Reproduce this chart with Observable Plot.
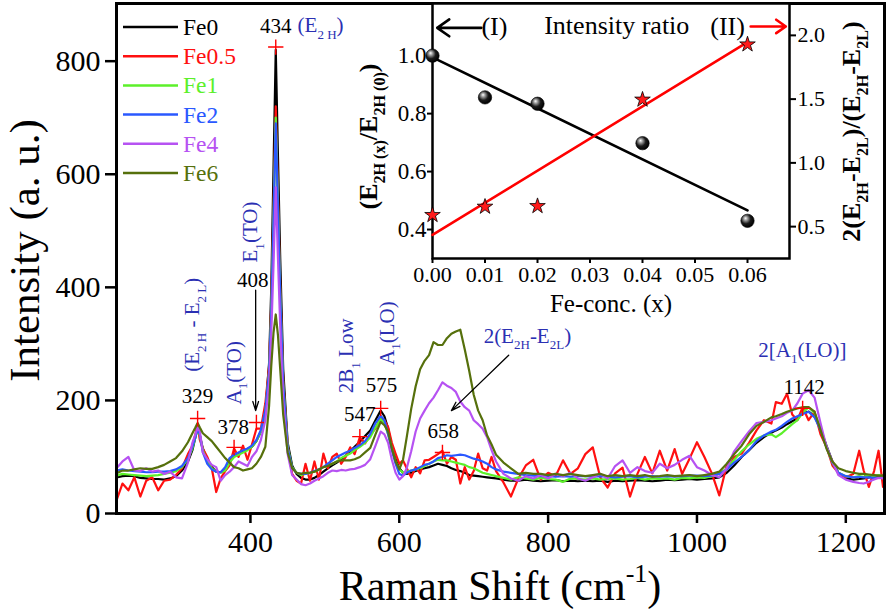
<!DOCTYPE html>
<html><head><meta charset="utf-8">
<script src="https://cdn.jsdelivr.net/npm/d3@7"></script>
<script src="https://cdn.jsdelivr.net/npm/@observablehq/plot@0.6"></script>
<style>
body{margin:0;background:#fff;}
#wrap{position:relative;width:886px;height:614px;}
#wrap svg{position:absolute;left:0;top:0;}
</style></head><body><div id="wrap"></div>
<script>
const FONT = "'Liberation Serif','Times New Roman',Times,serif";

// ---------- main spectra (Raman shift, cm-1) ----------
const shift = [
 220,228,236,244,252,260,268,276,284,292,300,308,316,
 322,326,329,332,336,342,348,354,360,366,372,378,384,390,396,402,408,414,
 420,425,428,431,434,437,440,444,450,456,462,
 468,474,480,486,492,498,504,510,516,522,528,534,540,547,554,561,568,575,580,585,590,595,600,605,610,
 616,622,628,634,640,646,652,658,664,670,676,682,688,694,700,706,712,718,724,730,
 740,750,760,770,780,790,800,810,820,830,840,850,860,870,880,890,900,910,920,930,940,950,960,970,980,990,1000,1010,1020,1030,1040,
 1050,1060,1070,1080,1090,1100,1106,1114,1121,1128,1135,1142,1150,1158,1166,1174,1182,1190,1200,1210,1218,1224,1231,1238,1244,1250];

const fe0 = [
 64,66,67,66,63,62,61,61,60,62,66,76,92,
 112,135,152,138,115,95,82,74,73,76,95,104,107,110,114,118,128,145,
 180,265,400,610,820,630,450,255,125,85,70,
 63,60,60,63,68,74,80,85,90,96,102,110,118,127,137,147,165,182,172,150,118,96,80,72,70,
 72,75,78,80,82,85,88,86,84,80,77,75,72,68,67,66,65,64,63,62,
 60,58,58,60,58,57,58,59,57,58,57,58,57,58,56,58,57,58,59,58,57,58,60,59,60,61,60,61,62,64,72,
 85,100,112,125,135,143,147,152,158,163,168,178,180,172,150,120,92,72,62,60,61,62,64,65,66,67];

const fe05 = [
 23,53,41,64,30,58,64,41,58,60,68,80,105,
 120,140,158,130,115,100,80,38,62,75,85,115,100,120,95,122,150,150,
 195,260,370,540,720,560,400,235,120,70,58,
 53,88,58,92,60,106,80,100,106,88,100,117,105,135,124,140,150,170,165,153,125,106,88,94,80,
 64,82,71,94,95,100,105,111,88,100,95,53,82,60,75,106,80,76,100,75,
 55,30,62,85,95,60,72,66,94,70,80,105,117,64,46,71,81,30,70,100,71,111,76,114,70,97,126,100,71,32,85,
 100,106,125,147,165,159,197,194,212,175,165,188,165,180,140,118,85,72,64,70,111,76,47,75,111,47];

const fe1 = [
 67,70,69,68,67,66,67,68,70,72,75,82,96,
 115,135,150,138,112,92,80,74,72,76,90,100,104,108,112,118,128,145,
 180,250,360,525,700,545,390,230,118,82,72,
 68,70,72,74,78,82,85,88,92,98,102,106,112,118,125,135,152,167,160,140,115,92,78,72,74,
 76,78,80,84,88,92,95,94,94,92,90,88,86,82,80,76,72,70,68,66,
 63,60,64,62,60,63,61,60,56,62,61,60,62,60,61,62,60,61,63,60,62,61,62,60,63,62,64,63,66,70,80,
 95,110,122,132,138,140,135,142,150,158,165,178,188,178,150,118,90,72,66,64,66,65,68,66,68,66];

const fe2 = [
 76,78,76,75,74,73,73,74,74,75,78,84,98,
 118,135,150,140,108,88,78,74,73,82,98,104,108,112,115,120,130,148,
 182,250,355,520,690,540,385,228,116,80,72,
 70,70,72,75,78,82,88,94,100,104,108,111,116,121,128,141,160,173,165,140,112,88,70,67,72,
 76,78,82,86,88,92,98,100,103,102,103,104,103,100,97,95,92,88,82,78,
 74,72,70,68,67,66,66,65,66,65,66,66,65,66,65,64,65,66,64,65,66,65,66,65,66,67,67,66,67,70,78,
 90,100,112,128,138,145,148,155,162,168,172,176,180,170,148,118,90,72,66,64,65,64,64,63,64,63];

const fe4 = [
 80,92,100,76,75,80,74,76,70,74,64,62,90,
 125,140,152,145,108,96,86,82,58,68,74,82,92,88,84,100,110,130,
 165,230,320,440,577,450,330,200,105,68,60,
 52,50,53,58,62,66,72,76,75,77,76,78,79,82,86,96,120,145,140,125,95,72,60,66,80,
 110,145,168,182,195,205,218,232,226,222,215,198,188,182,165,158,150,135,112,92,
 70,62,58,66,62,68,62,70,66,72,62,58,64,70,62,84,94,72,82,75,72,88,80,86,95,102,82,76,68,64,80,
 110,128,145,160,162,165,168,172,178,182,195,212,218,205,160,118,92,68,60,56,54,53,56,60,63,62];

const fe6 = [
 71,76,76,78,80,79,79,82,86,92,98,110,126,
 142,152,160,152,142,135,128,118,108,98,90,82,80,76,78,80,88,100,
 118,190,262,320,352,315,255,175,108,80,72,
 70,72,72,74,78,82,84,88,92,94,94,94,96,100,108,116,140,162,156,145,115,92,78,95,135,
 185,225,255,270,280,303,298,298,310,318,322,325,290,252,210,182,165,138,122,104,
 90,80,70,72,70,70,68,70,68,70,68,66,68,70,66,68,66,68,66,68,65,66,68,66,67,68,66,68,70,74,88,
 105,120,140,155,162,170,172,176,180,183,186,188,188,180,148,115,92,80,75,72,70,70,69,68,67,67];

const seriesNames = ["Fe0","Fe0.5","Fe1","Fe2","Fe4","Fe6"];
const seriesValues = [fe0, fe05, fe1, fe2, fe4, fe6];
const seriesColors = ["#000000","#ff1010","#5cf02a","#2a58ff","#b652f2","#56700c"];

const xTicks = [400,600,800,1000,1200];
const yTicks = [0,200,400,600,800];

// marked peaks
const peakShift = [329,378,408,434,547,575,658,1142];
const peakIntensity = [168,117,161,825,136,186,108,186];
const peakLabels = ["329","378","408","434","547","575","658","1142"];
const peakLabelX = [329,377,403,434,547,576,659,1144];
const peakLabelY = [208,153,412,861,176,226,146,224];

// inset: intensity ratios vs Fe concentration
const conc = [0,0.01,0.02,0.04,0.06];
const ratioI = [1.0,0.856,0.834,0.698,0.430];
const ratioII = [0.591,0.656,0.661,1.496,1.929];
const fitConc = [0,0.06];
const fitI = [0.994,0.466];
const fitII = [0.435,1.947];
const concTicks = [0,0.01,0.02,0.03,0.04,0.05,0.06];
const ratioITicks = [0.4,0.6,0.8,1.0];
const ratioIITicks = [0.5,1.0,1.5,2.0];

// ---------- build tables ----------
seriesValues.forEach((v,k)=>{ if (v.length !== shift.length) throw new Error(seriesNames[k]+" length "+v.length+" vs "+shift.length); });
const rows = seriesNames.flatMap((s,k)=> shift.map((x,i)=>({series:s, shift:x, intensity:seriesValues[k][i]})));
const peaks = peakShift.map((x,i)=>({x, y:peakIntensity[i], label:peakLabels[i], lx:peakLabelX[i], ly:peakLabelY[i]}));
const arrows = [{x1:407,y1:395,x2:407,y2:182},{x1:747,y1:280,x2:670,y2:182}];

const main = Plot.plot({
  width: 886, height: 614,
  marginLeft: 116, marginRight: 2, marginTop: 3, marginBottom: 101,
  style: {fontFamily: FONT, background: "white", overflow: "visible"},
  x: {domain: [220, 1252]},
  y: {domain: [0, 902]},
  color: {domain: seriesNames, range: seriesColors},
  marks: [
    Plot.axisX({ticks: xTicks, tickFormat: d => String(d), tickSize: 10, tickPadding: 7, strokeWidth: 2.5, fontSize: 30, label: null}),
    Plot.axisY({ticks: yTicks, tickFormat: d => String(d), tickSize: 11, tickPadding: 5, strokeWidth: 2.5, fontSize: 30, label: null}),
    Plot.line(rows, {x: "shift", y: "intensity", z: "series", stroke: "series", strokeWidth: 2.2, strokeLinejoin: "round"}),
    Plot.frame({strokeWidth: 3}),
    Plot.dot(peaks, {x: "x", y: "y", symbol: "plus", r: 5, stroke: "#ff0000", strokeWidth: 1.4}),
    Plot.text(peaks, {x: "lx", y: "ly", text: "label", fontSize: 21, fill: "black"}),
    Plot.arrow(arrows, {x1: "x1", y1: "y1", x2: "x2", y2: "y2", stroke: "black", strokeWidth: 1.3, headLength: 11, headAngle: 35}),
    Plot.text(["Intensity (a. u.)"], {text: d => d, frameAnchor: "left", textAnchor: "middle", lineAnchor: "middle", rotate: -90, dx: -91, dy: -8, fontSize: 43})
  ]
});

const insetStyle = {fontFamily: FONT, background: "transparent", overflow: "visible"};
const fitRowsI = fitConc.map((x,i)=>({x, y:fitI[i]}));
const fitRowsII = fitConc.map((x,i)=>({x, y:fitII[i]}));
const ptsI = conc.map((x,i)=>({x, y:ratioI[i]}));
const ptsII = conc.map((x,i)=>({x, y:ratioII[i]}));

const insetL = Plot.plot({
  width: 886, height: 614,
  marginLeft: 432, marginRight: 97, marginTop: 3, marginBottom: 356,
  style: insetStyle,
  x: {domain: [0, 0.068]},
  y: {domain: [0.3, 1.18]},
  marks: [
    Plot.frame({fill: "white", stroke: "none"}),
    Plot.axisX({ticks: concTicks, tickFormat: d3.format(".2f"), tickSize: 5, tickPadding: 3, strokeWidth: 2, fontSize: 22, label: null}),
    Plot.axisY({ticks: ratioITicks, tickFormat: d3.format(".1f"), tickSize: 5, tickPadding: 1, strokeWidth: 2, fontSize: 23, label: null}),
    Plot.line(fitRowsI, {x: "x", y: "y", stroke: "black", strokeWidth: 2.6}),
    Plot.frame({strokeWidth: 2.5}),
    Plot.dot(ptsI, {x: "x", y: "y", r: 6.7, fill: "url(#sphere)", stroke: "#000", strokeWidth: 0.6}),
    Plot.text(["Intensity ratio"], {text: d => d, x: [0.0351], y: [1.104], fontSize: 26}),
    Plot.text(["(I)"], {text: d => d, x: [0.0118], y: [1.10], fontSize: 26}),
    Plot.text(["(II)"], {text: d => d, x: [0.0562], y: [1.10], fontSize: 26}),
    Plot.arrow([{x1: 0.0093, x2: 0.0009, y: 1.096}], {x1: "x1", x2: "x2", y1: "y", y2: "y", stroke: "black", strokeWidth: 2.6, headLength: 13, headAngle: 70}),
    Plot.text(["Fe-conc. (x)"], {text: d => d, frameAnchor: "bottom", lineAnchor: "middle", dy: 45, fontSize: 25})
  ]
});

const insetR = Plot.plot({
  width: 886, height: 614,
  marginLeft: 432, marginRight: 97, marginTop: 3, marginBottom: 356,
  style: insetStyle,
  x: {domain: [0, 0.068], axis: null},
  y: {domain: [0.25, 2.25]},
  marks: [
    Plot.axisY({anchor: "right", ticks: ratioIITicks, tickFormat: d3.format(".1f"), tickSize: 6, tickPadding: 2, strokeWidth: 2, fontSize: 22, label: null}),
    Plot.line(fitRowsII, {x: "x", y: "y", stroke: "#ff0000", strokeWidth: 2.6}),
    Plot.dot(ptsII, {x: "x", y: "y", symbol: "star", r: 4.9, fill: "#ff1a1a", stroke: "#000", strokeWidth: 0.8}),
    Plot.arrow([{x1: 0.0606, x2: 0.0673, y: 2.07}], {x1: "x1", x2: "x2", y1: "y", y2: "y", stroke: "#ff0000", strokeWidth: 2.6, headLength: 13, headAngle: 70})
  ]
});

const wrap = document.getElementById("wrap");
wrap.appendChild(main);
wrap.appendChild(insetL);
wrap.appendChild(insetR);

// sphere gradient for the inset markers
const defs = d3.select(insetL).insert("defs", ":first-child");
const g = defs.append("radialGradient").attr("id", "sphere").attr("cx", "0.4").attr("cy", "0.4").attr("r", "0.6").attr("fx", "0.35").attr("fy", "0.3");
g.append("stop").attr("offset", "0").attr("stop-color", "#ffffff");
g.append("stop").attr("offset", "0.25").attr("stop-color", "#9a9a9a");
g.append("stop").attr("offset", "0.6").attr("stop-color", "#1a1a1a");
g.append("stop").attr("offset", "1").attr("stop-color", "#000000");

// ---------- rich text (sub/superscripts) ----------
function rich(svg, x, y, parts, o) {
  const size = o.size;
  const t = d3.select(svg).append("text")
    .attr("transform", `translate(${x},${y}) rotate(${o.rotate || 0})`)
    .attr("text-anchor", o.anchor || "start")
    .attr("font-family", FONT).attr("font-size", size)
    .attr("font-weight", o.weight || "normal")
    .attr("fill", o.fill || "black")
    .style("white-space", "pre");
  let cur = 0;
  for (const [s, kind] of parts) {
    const off = kind === "sub" ? 0.3 * size : kind === "sup" ? -0.42 * size : 0;
    t.append("tspan").attr("dy", off - cur).attr("font-size", kind ? 0.62 * size : size).text(s);
    cur = off;
  }
  return t;
}

const sx = main.scale("x"), sy = main.scale("y");
const BLUE = "#2b30b3";
const modeLabels = [
  {parts: [["(E"],["2 H","sub"],[")"]], x: 464, y: 850, rotate: 0, anchor: "start"},
  {parts: [["E"],["1","sub"],["(TO)"]], x: 410, y: 497, rotate: -90, anchor: "middle"},
  {parts: [["(E"],["2 H","sub"],[" - E"],["2 L","sub"],[")"]], x: 332, y: 333, rotate: -90, anchor: "middle"},
  {parts: [["A"],["1","sub"],["(TO)"]], x: 388, y: 248, rotate: -90, anchor: "middle"},
  {parts: [["2B"],["1","sub"],[" Low"]], x: 539, y: 278, rotate: -90, anchor: "middle"},
  {parts: [["A"],["1","sub"],["(LO)"]], x: 593, y: 318, rotate: -90, anchor: "middle"},
  {parts: [["2(E"],["2H","sub"],["-E"],["2L","sub"],[")"]], x: 714, y: 301, rotate: 0, anchor: "start"},
  {parts: [["2[A"],["1","sub"],["(LO)]"]], x: 1083, y: 276, rotate: 0, anchor: "start"}
];
for (const m of modeLabels) rich(main, sx.apply(m.x), sy.apply(m.y), m.parts, {size: 21, fill: BLUE, rotate: m.rotate, anchor: m.anchor});

// x-axis title
const xr = sx.range;
rich(main, (xr[0] + xr[1]) / 2, 600, [["Raman Shift (cm"],["-1","sup"],[")"]], {size: 42, anchor: "middle"});

// inset axis titles
const ix = insetL.scale("x"), iy = insetL.scale("y");
const iyr = iy.range, ixr = ix.range;
const iMid = (iyr[0] + iyr[1]) / 2;
rich(insetL, ixr[0] - 55, iMid + 6, [["(E"],["2H (x)","sub"],["/E"],["2H (0)","sub"],[")"]], {size: 26, weight: "bold", rotate: -90, anchor: "middle"});
rich(insetR, ixr[1] + 71, iMid + 1, [["2(E"],["2H","sub"],["-E"],["2L","sub"],[")/(E"],["2H","sub"],["-E"],["2L","sub"],[")"]], {size: 26, weight: "bold", rotate: -90, anchor: "middle"});

// legend (inside top-left of the frame)
const lg = d3.select(main).append("g");
seriesNames.forEach((s, i) => {
  const yy = 27 + i * 29.2;
  lg.append("line").attr("x1", 123).attr("x2", 178).attr("y1", yy).attr("y2", yy).attr("stroke", seriesColors[i]).attr("stroke-width", 2.5);
  lg.append("text").attr("x", 183).attr("y", yy + 8).attr("text-anchor", "start").attr("font-family", FONT).attr("font-size", 23.5).attr("fill", seriesColors[i]).text(s);
});
</script></body></html>
